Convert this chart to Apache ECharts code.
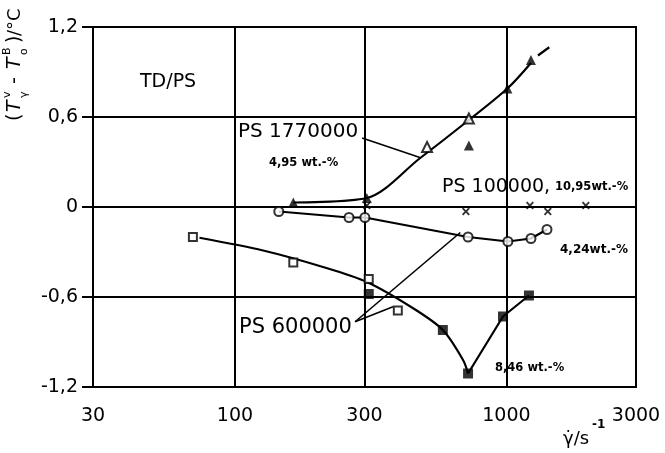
<!DOCTYPE html>
<html>
<head>
<meta charset="utf-8">
<script src="https://cdn.jsdelivr.net/npm/echarts@6/dist/echarts.min.js"></script>
<style>
  html, body { margin: 0; padding: 0; background: #fff; }
  #main { width: 665px; height: 453px; }
</style>
</head>
<body>
<div id="main"></div>
<script>
// 坐标刻度
var xTicks = [30, 100, 300, 1000, 3000];
var yTicks = [-1.2, -0.6, 0, 0.6, 1.2];
var yTickLabels = ['-1,2', '-0,6', '0', '0,6', '1,2'];

// PS 1770000, 4,95 wt.-% (三角)
var ps1770Open = [[510, 0.40], [727, 0.59]];
var ps1770Fill = [[164, 0.03], [306, 0.06], [727, 0.41], [1008, 0.79], [1231, 0.98]];
var ps1770Curve = [[164, 0.03], [306, 0.06], [480, 0.325], [693, 0.55], [1008, 0.79], [1231, 0.96]];
var ps1770Dash = [[1306, 1.01], [1438, 1.065]];

// PS 100000, 10,95 wt.-% (叉)
var ps100Cross = [[306, 0.01], [709, -0.03], [1220, 0.01], [1420, -0.03], [1960, 0.01]];

// PS 600000, 4,24 wt.-% (圆)
var ps600Circle = [[145, -0.03], [263, -0.07], [301, -0.07], [722, -0.20], [1012, -0.23], [1231, -0.21], [1410, -0.15]];

// PS 600000, 8,46 wt.-% (方块)
var ps600Open = [[70, -0.20], [164, -0.37], [311, -0.48], [398, -0.69]];
var ps600Fill = [[311, -0.58], [583, -0.82], [722, -1.11], [971, -0.73], [1210, -0.59]];
var ps600Curve = [[74, -0.205], [127, -0.29], [211, -0.40], [306, -0.50], [453, -0.675], [583, -0.82], [692, -1.02], [722, -1.11]];
var ps600Rise = [[722, -1.11], [971, -0.73], [1210, -0.59]];

// 引线
var lead1770 = [[294, 0.46], [480, 0.33]];
var lead600a = [[277, -0.765], [676, -0.17]];
var lead600b = [[277, -0.765], [382, -0.665]];

var FONT = '"DejaVu Sans", sans-serif';
var chart = echarts.init(document.getElementById('main'));

var lineSeries = function (data, opt) {
  return Object.assign({
    type: 'line', data: data, showSymbol: false, symbol: 'none', silent: true,
    lineStyle: { color: '#000', width: 2.2 }, z: 3
  }, opt || {});
};
var dotSeries = function (data, symbol, size, filled) {
  return {
    type: 'scatter', data: data, symbol: symbol, symbolSize: size, silent: true, z: 5,
    itemStyle: filled ? { color: '#000' } : { color: '#fff', borderColor: '#000', borderWidth: 2 }
  };
};
var crossPath = 'path://M0,1.7L1.7,0L5,3.3L8.3,0L10,1.7L6.7,5L10,8.3L8.3,10L5,6.7L1.7,10L0,8.3L3.3,5Z';

var txt = function (x, y, s, size, weight, style) {
  return {
    type: 'text', x: x, y: y, z: 10,
    style: { text: s, font: (style || '') + ' ' + (weight || 'normal') + ' ' + size + 'px ' + FONT, fill: '#000',
      align: 'left', verticalAlign: 'middle' }
  };
};

chart.setOption({
  animation: false,
  backgroundColor: '#fff',
  grid: { left: 93, right: 29, top: 27, bottom: 66, show: true, borderColor: '#000', borderWidth: 2 },
  xAxis: {
    type: 'log', logBase: 10, min: 30, max: 3000,
    axisLine: { show: true, lineStyle: { color: '#000', width: 2 } },
    axisTick: { show: true, customValues: xTicks, length: 9, lineStyle: { color: '#000', width: 2 } },
    axisLabel: {
      customValues: xTicks, margin: 20, fontSize: 19, color: '#000', fontFamily: FONT,
      formatter: function (v) { return String(Math.round(v)); }
    },
    splitLine: { show: true, lineStyle: { color: '#000', width: 2 } },
    minorTick: { show: false }
  },
  yAxis: {
    type: 'value', min: -1.2, max: 1.2, interval: 0.6,
    axisLine: { show: true, lineStyle: { color: '#000', width: 2 } },
    axisTick: { show: true, customValues: yTicks, length: 11, lineStyle: { color: '#000', width: 2 } },
    axisLabel: {
      customValues: yTicks, margin: 15, fontSize: 19, color: '#000', fontFamily: FONT,
      formatter: function (v) {
        for (var i = 0; i < yTicks.length; i++) {
          if (Math.abs(yTicks[i] - v) < 1e-6) return yTickLabels[i];
        }
        return '';
      }
    },
    splitLine: { show: true, lineStyle: { color: '#000', width: 2 } }
  },
  series: [
    lineSeries(ps1770Curve, { smooth: 0.3 }),
    lineSeries(ps1770Dash),
    lineSeries(ps600Curve, { smooth: 0.3 }),
    lineSeries(ps600Rise),
    lineSeries(ps600Circle),
    lineSeries(lead1770, { lineStyle: { color: '#000', width: 1.6 } }),
    lineSeries(lead600a, { lineStyle: { color: '#000', width: 1.6 } }),
    lineSeries(lead600b, { lineStyle: { color: '#000', width: 1.6 } }),
    dotSeries(ps1770Open, 'triangle', 10, false),
    dotSeries(ps1770Fill, 'triangle', 10, true),
    dotSeries(ps100Cross, crossPath, 8, true),
    dotSeries(ps600Circle, 'circle', 9, false),
    dotSeries(ps600Open, 'rect', 8, false),
    dotSeries(ps600Fill, 'rect', 10, true)
  ],
  graphic: [
    txt(140, 82, 'TD/PS', 19),
    txt(238, 132, 'PS 1770000', 20),
    txt(269, 163, '4,95 wt.-%', 11.5, 'bold'),
    txt(442, 187, 'PS 100000,', 19),
    txt(555, 187, '10,95wt.-%', 11.5, 'bold'),
    txt(560, 250, '4,24wt.-%', 12, 'bold'),
    txt(239, 328, 'PS 600000', 21),
    txt(495, 368, '8,46 wt.-%', 11.5, 'bold'),
    txt(563, 439, 'γ̇/s', 18),
    txt(592, 425, '-1', 12, 'bold'),
    {
      type: 'group', x: 22, y: 121, rotation: Math.PI / 2,
      children: [
        txt(0, -7, '(', 19),
        txt(9, -7, 'T', 19, 'normal', 'italic'),
        txt(23, -15, 'v', 11),
        txt(23, 2, 'γ', 11),
        txt(37, -7, '-', 19),
        txt(52, -7, 'T', 19, 'normal', 'italic'),
        txt(66, -15, 'B', 11),
        txt(66, 2, 'o', 11),
        txt(78, -7, ')', 19),
        txt(85, -7, '/°C', 18)
      ]
    }
  ]
});
</script>
</body>
</html>
